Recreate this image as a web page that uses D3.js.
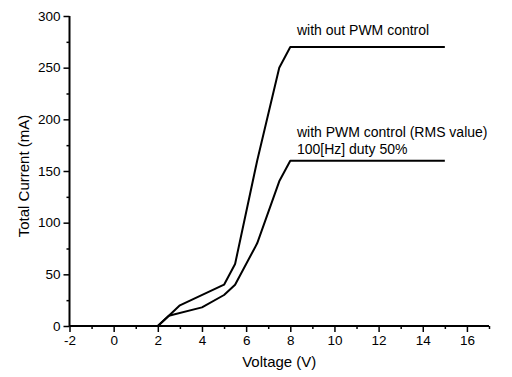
<!DOCTYPE html>
<html><head><meta charset="utf-8">
<script src="https://cdn.jsdelivr.net/npm/d3@7"></script>
<style>body{margin:0;background:#fff}svg{display:block}text{font-family:"Liberation Sans",Arial,sans-serif;fill:#000}</style>
</head><body><svg id="c" width="512" height="377"></svg>
<script>
// Data
const voltageNoPWM = [2, 2.5, 3, 5, 5.5, 6.5, 7.5, 8, 15];
const currentNoPWM = [0, 10, 20, 40, 60, 160, 250, 270, 270];
const voltagePWM = [2, 2.5, 4, 5, 5.5, 6.5, 7.5, 8, 15];
const currentPWM = [0, 10, 18, 30, 40, 80, 140, 160, 160];
const xMajorTicks = [-2, 0, 2, 4, 6, 8, 10, 12, 14, 16];
const xMinorTicks = [-1, 1, 3, 5, 7, 9, 11, 13, 15, 17];
const yMajorTicks = [0, 50, 100, 150, 200, 250, 300];
const yMinorTicks = [25, 75, 125, 175, 225, 275];
const labelNoPWM = ["with out PWM control"];
const labelPWM = ["with PWM control (RMS value)", "100[Hz] duty 50%"];
const xTitle = "Voltage (V)";
const yTitle = "Total Current (mA)";

const svg = d3.select("#c");
const x = d3.scaleLinear().domain([-2, 17]).range([69.5, 489]);
const y = d3.scaleLinear().domain([0, 300]).range([326, 16]);
const fmt = d => String(d);

// axes
const xAxis = svg.append("g").attr("transform", "translate(0,326)");
xAxis.call(d3.axisBottom(x).tickValues(xMajorTicks).tickSize(6).tickPadding(3).tickFormat(fmt));
const xMinor = svg.append("g").attr("transform", "translate(0,326)");
xMinor.call(d3.axisBottom(x).tickValues(xMinorTicks).tickSize(3).tickFormat(""));
const yAxis = svg.append("g").attr("transform", "translate(69.5,0)");
yAxis.call(d3.axisLeft(y).tickValues(yMajorTicks).tickSize(6).tickPadding(3).tickFormat(fmt));
const yMinor = svg.append("g").attr("transform", "translate(69.5,0)");
yMinor.call(d3.axisLeft(y).tickValues(yMinorTicks).tickSize(3).tickFormat(""));

svg.selectAll(".domain").attr("stroke", "#000").attr("stroke-width", 2);
svg.selectAll(".tick line").attr("stroke", "#000").attr("stroke-width", 1.5);
svg.selectAll(".tick text").attr("font-size", 13.5).attr("font-family", "Liberation Sans, Arial, sans-serif").attr("fill", "#000");
xMinor.select(".domain").remove();
yMinor.select(".domain").remove();
xAxis.select(".domain").attr("d", `M${x(-2)},0H${x(17)}`);
yAxis.select(".domain").attr("d", `M0,${y(0)}V${y(300)}`);

// axis titles
svg.append("text").attr("x", (x(-2) + x(17)) / 2).attr("y", 367).attr("text-anchor", "middle")
  .attr("font-size", 15).text(xTitle);
svg.append("text").attr("transform", `translate(29,176) rotate(-90)`).attr("text-anchor", "middle")
  .attr("font-size", 15).text(yTitle);

// lines
const line = d3.line().x(d => x(d[0])).y(d => y(d[1]));
const s1 = voltageNoPWM.map((v, i) => [v, currentNoPWM[i]]);
const s2 = voltagePWM.map((v, i) => [v, currentPWM[i]]);
[s1, s2].forEach(s => svg.append("path").datum(s).attr("d", line)
  .attr("fill", "none").attr("stroke", "#000").attr("stroke-width", 2).attr("stroke-linejoin", "round"));

// annotations
svg.append("text").attr("x", x(8.3)).attr("y", y(282)).attr("font-size", 14).text(labelNoPWM[0]);
labelPWM.forEach((t, i) => svg.append("text").attr("x", x(8.3)).attr("y", y(183) + i * 17).attr("font-size", 14).text(t));
</script></body></html>
